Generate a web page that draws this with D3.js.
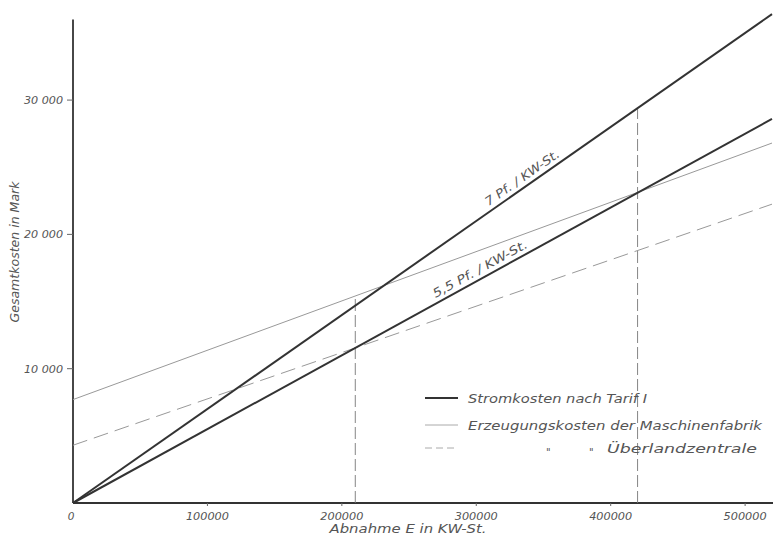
<!DOCTYPE html>
<html>
<head>
<meta charset="utf-8">
<script src="https://cdn.jsdelivr.net/npm/d3@7"></script>
<style>
  body { margin: 0; background: #fff; }
  text { font-family: "DejaVu Sans", sans-serif; font-style: italic; fill: #555; }
</style>
</head>
<body>
<div id="chart"></div>
<script>
// data (E in KW-St., Gesamtkosten in Mark)
const xTicks = [0, 100000, 200000, 300000, 400000, 500000];
const xTickLabels = ['0', '100000', '200000', '300000', '400000', '500000'];
const yTicks = [10000, 20000, 30000];
const yTickLabels = ['10 000', '20 000', '30 000'];

const tarif7 = [[0, 0], [520000, 36400]];
const tarif55 = [[0, 0], [520000, 28600]];
const erzeugung = [[0, 7700], [520000, 26800]];
const ueberland = [[0, 4300], [520000, 22250]];
const markers = [[210000, 15400], [420000, 29400]];

const legendLabels = ['Stromkosten nach Tarif I', 'Erzeugungskosten der Maschinenfabrik', 'Überlandzentrale'];

const width = 773;
const height = 536;

const svg = d3.select('#chart')
  .append('svg')
  .attr('width', width)
  .attr('height', height);

const x = d3.scaleLinear().domain([0, 520000]).range([73, 772]);
const y = d3.scaleLinear().domain([0, 36000]).range([503, 19.5]);

const line = d3.line().x((d) => x(d[0])).y((d) => y(d[1]));

// axes
svg.append('line')
  .attr('x1', x(0)).attr('x2', x(0))
  .attr('y1', y(0)).attr('y2', y(36000))
  .attr('stroke', '#333').attr('stroke-width', 1.8);

svg.append('line')
  .attr('x1', x(0)).attr('x2', width)
  .attr('y1', y(0)).attr('y2', y(0))
  .attr('stroke', '#333').attr('stroke-width', 1.8);

svg.append('g')
  .selectAll('line')
  .data(yTicks)
  .join('line')
  .attr('x1', x(0) - 6).attr('x2', x(0))
  .attr('y1', (d) => y(d)).attr('y2', (d) => y(d))
  .attr('stroke', '#666');

svg.append('g')
  .selectAll('text')
  .data(yTicks)
  .join('text')
  .attr('x', x(0) - 10)
  .attr('y', (d) => y(d) + 4)
  .attr('text-anchor', 'end')
  .attr('font-size', 10.5)
  .attr('textLength', 39)
  .attr('lengthAdjust', 'spacingAndGlyphs')
  .text((d, i) => yTickLabels[i]);

svg.append('g')
  .selectAll('line')
  .data(xTicks.slice(1))
  .join('line')
  .attr('x1', (d) => x(d)).attr('x2', (d) => x(d))
  .attr('y1', y(0)).attr('y2', y(0) + 3)
  .attr('stroke', '#666');

svg.append('g')
  .selectAll('text')
  .data(xTicks)
  .join('text')
  .attr('x', (d) => x(d) - (d === 0 ? 2 : 0))
  .attr('y', 520)
  .attr('text-anchor', 'middle')
  .attr('font-size', 10.5)
  .attr('textLength', (d) => (d === 0 ? null : 43))
  .attr('lengthAdjust', 'spacingAndGlyphs')
  .text((d, i) => xTickLabels[i]);

svg.append('text')
  .attr('x', 408)
  .attr('y', 533)
  .attr('text-anchor', 'middle')
  .attr('font-size', 12.5)
  .attr('textLength', 157)
  .attr('lengthAdjust', 'spacingAndGlyphs')
  .text('Abnahme E in KW-St.');

svg.append('text')
  .attr('transform', 'translate(19,252) rotate(-90)')
  .attr('text-anchor', 'middle')
  .attr('font-size', 12.5)
  .attr('textLength', 141)
  .attr('lengthAdjust', 'spacingAndGlyphs')
  .text('Gesamtkosten in Mark');

// vertical helper lines
svg.append('g')
  .selectAll('line')
  .data(markers)
  .join('line')
  .attr('x1', (d) => x(d[0])).attr('x2', (d) => x(d[0]))
  .attr('y1', y(0)).attr('y2', (d) => y(d[1]))
  .attr('stroke', '#777')
  .attr('stroke-width', 0.9)
  .attr('stroke-dasharray', '12 4');

// cost lines
svg.append('path')
  .attr('d', line(erzeugung))
  .attr('fill', 'none')
  .attr('stroke', '#999')
  .attr('stroke-width', 1);

svg.append('path')
  .attr('d', line(ueberland))
  .attr('fill', 'none')
  .attr('stroke', '#999')
  .attr('stroke-width', 1)
  .attr('stroke-dasharray', '15 7');

[tarif7, tarif55].forEach((s) => {
  svg.append('path')
    .attr('d', line(s))
    .attr('fill', 'none')
    .attr('stroke', '#333')
    .attr('stroke-width', 2);
});

// line labels
const angle = (s) => Math.atan2(y(s[1][1]) - y(s[0][1]), x(s[1][0]) - x(s[0][0])) * 180 / Math.PI;
const lineLabel = (s, e, text, len) => {
  const v = s[0][1] + (s[1][1] - s[0][1]) * e / s[1][0];
  svg.append('text')
    .attr('transform', `translate(${x(e)},${y(v)}) rotate(${angle(s)}) translate(0,-5)`)
    .attr('text-anchor', 'middle')
    .attr('font-size', 12)
    .attr('textLength', len)
    .attr('lengthAdjust', 'spacingAndGlyphs')
    .text(text);
};
lineLabel(tarif7, 338000, '7 Pf. / KW-St.', 88);
lineLabel(tarif55, 306000, '5,5 Pf. / KW-St.', 106);

// legend
const legendY = [398, 425, 448];
const legend = svg.append('g');
legend.append('line')
  .attr('x1', 425).attr('x2', 458).attr('y1', legendY[0]).attr('y2', legendY[0])
  .attr('stroke', '#333').attr('stroke-width', 2);
legend.append('line')
  .attr('x1', 425).attr('x2', 458).attr('y1', legendY[1]).attr('y2', legendY[1])
  .attr('stroke', '#aaa').attr('stroke-width', 1);
legend.append('line')
  .attr('x1', 425).attr('x2', 458).attr('y1', legendY[2]).attr('y2', legendY[2])
  .attr('stroke', '#aaa').attr('stroke-width', 1)
  .attr('stroke-dasharray', '7 4');

const legendText = (tx, ty, text, len) => legend.append('text')
  .attr('x', tx).attr('y', ty)
  .attr('font-size', 12.5)
  .attr('textLength', len)
  .attr('lengthAdjust', 'spacingAndGlyphs')
  .text(text);
legendText(468, legendY[0] + 5, legendLabels[0], 179);
legendText(468, legendY[1] + 5, legendLabels[1], 294);
legendText(607, legendY[2] + 5, legendLabels[2], 150);
legend.append('text').attr('x', 546).attr('y', legendY[2] + 8).attr('font-size', 10).text('"');
legend.append('text').attr('x', 589).attr('y', legendY[2] + 8).attr('font-size', 10).text('"');
</script>
</body>
</html>
